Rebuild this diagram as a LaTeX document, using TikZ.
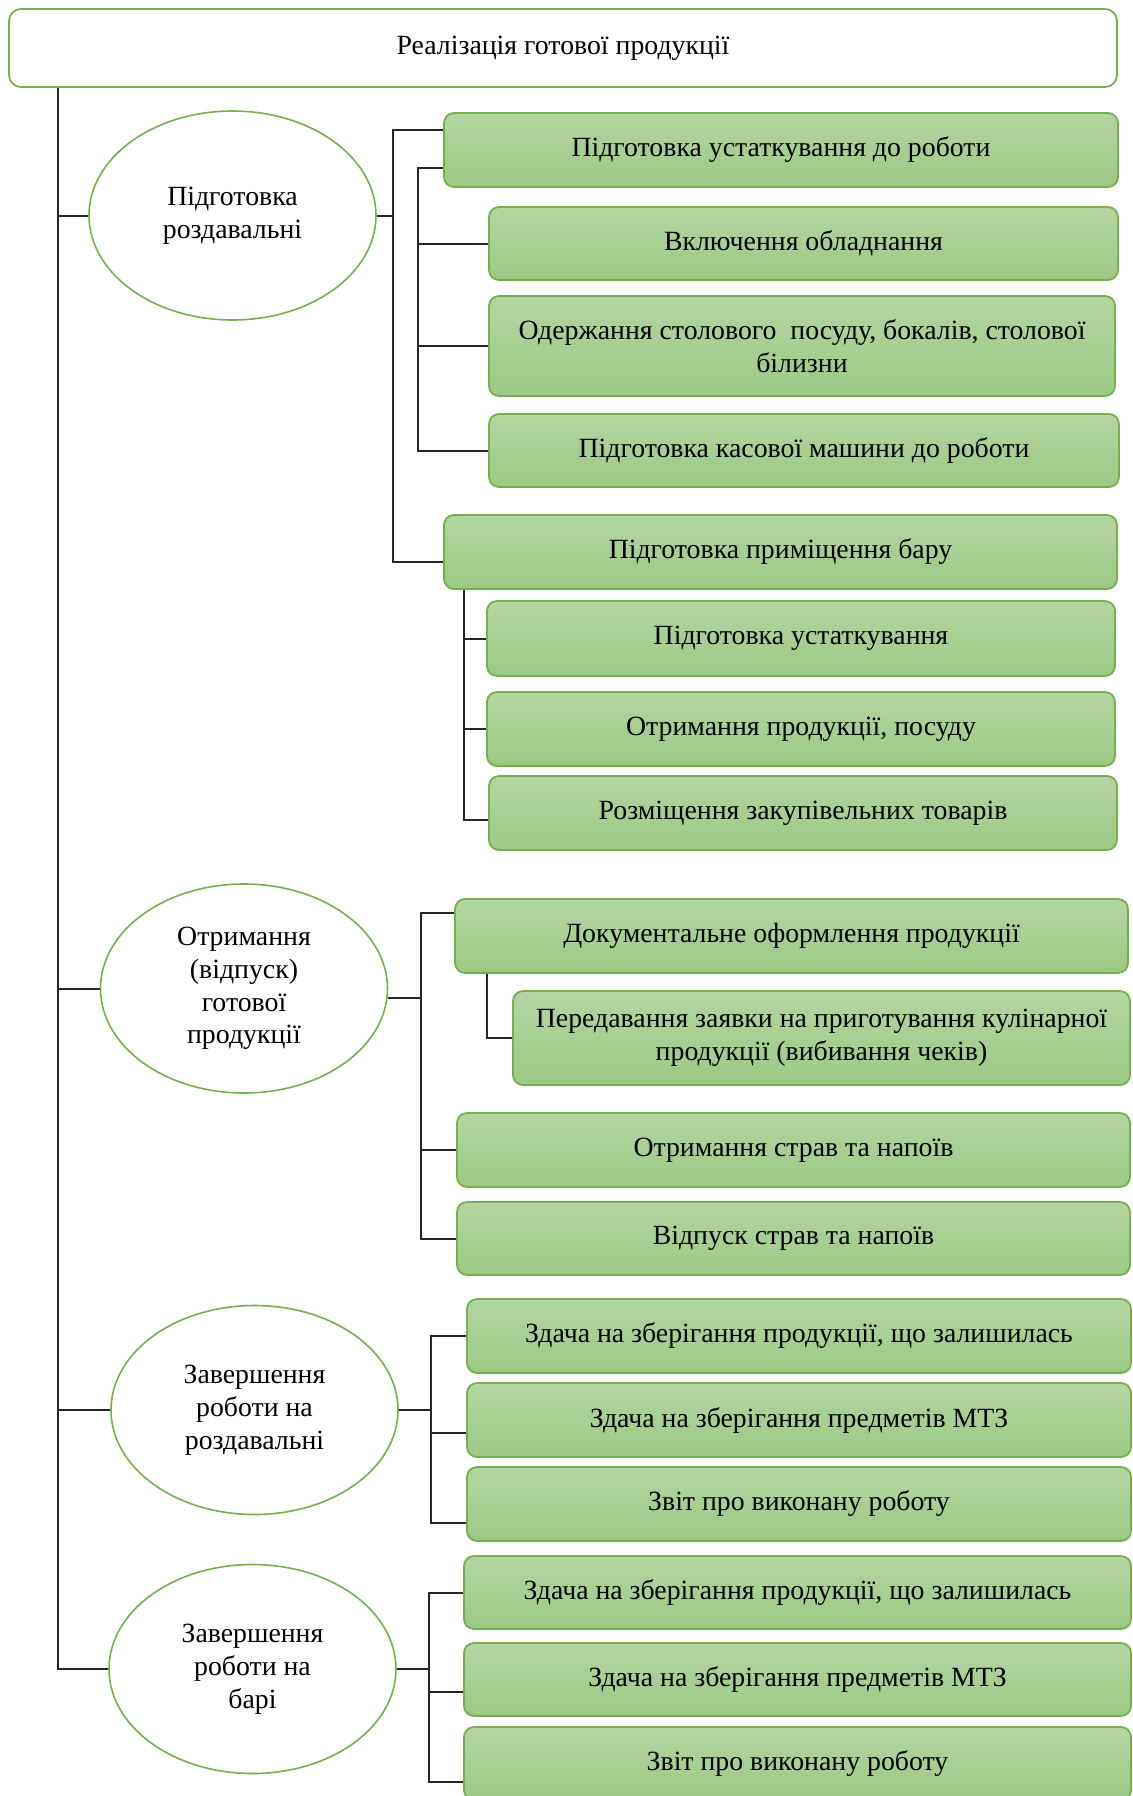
\documentclass[tikz,border=0pt]{standalone}
\usepackage{fontspec}
\setmainfont{Liberation Serif}
\usetikzlibrary{shapes.geometric}
\definecolor{leafline}{HTML}{74B04E}
\definecolor{leaftop}{HTML}{B4D5A1}
\definecolor{leafbot}{HTML}{9CC983}

\begin{document}
\begin{tikzpicture}[x=0.5pt, y=-0.5pt,
  font=\fontsize{13.9}{16.4}\selectfont,
  root/.style={draw=leafline, line width=0.9pt, rounded corners=6pt, fill=white, minimum width=554pt, minimum height=39pt, inner sep=0pt},
  phase/.style={ellipse, draw=leafline, line width=0.8pt, fill=white, minimum width=143.5pt, minimum height=104.5pt, inner sep=0pt, align=center},
  leaf/.style={draw=leafline, line width=0.9pt, rounded corners=5pt, top color=leaftop, bottom color=leafbot, minimum height=37pt, inner sep=0pt, align=center},
  link/.style={draw=black!85, line width=1pt}]
\useasboundingbox (0, 0) rectangle (1133, 1796);
%Level 0
\node[root] (top) at (563, 48) {Реалізація готової продукції};
%Level 1
\node[phase] (p1) at (232.5, 215.5) {Підготовка\\роздавальні};
\node[phase] (p2) at (244, 988.5) {Отримання\\(відпуск)\\готової\\продукції};
\node[phase] (p3) at (254.5, 1410) {Завершення\\роботи на\\роздавальні};
\node[phase] (p4) at (252.5, 1669) {Завершення\\роботи на\\барі};
%Level 2
\node[leaf, minimum width=337pt] (b1) at (781, 150) {Підготовка устаткування до роботи};
\node[leaf, minimum width=314.5pt, minimum height=36.5pt] (b2) at (803.5, 243.5) {Включення обладнання};
\node[leaf, minimum width=313pt, minimum height=50pt] (b3) at (802, 346) {Одержання столового~ посуду, бокалів, столової\\білизни};
\node[leaf, minimum width=315pt, minimum height=36.5pt] (b4) at (804, 450.5) {Підготовка касової машини до роботи};
\node[leaf, minimum width=336.5pt] (b5) at (780.5, 552) {Підготовка приміщення бару};
\node[leaf, minimum width=314pt, minimum height=37.5pt] (b6) at (801, 638.5) {Підготовка устаткування};
\node[leaf, minimum width=314pt] (b7) at (801, 729) {Отримання продукції, посуду};
\node[leaf, minimum width=314pt] (b8) at (803, 813) {Розміщення закупівельних товарів};
\node[leaf, minimum width=336.5pt] (c1) at (791.5, 936) {Документальне оформлення продукції};
\node[leaf, minimum width=308.5pt, minimum height=47pt] (c2) at (821.5, 1038) {Передавання заявки на приготування кулінарної\\продукції (вибивання чеків)};
\node[leaf, minimum width=336.5pt] (c3) at (793.5, 1150) {Отримання страв та напоїв};
\node[leaf, minimum width=336.5pt, minimum height=36.5pt] (c4) at (793.5, 1238.5) {Відпуск страв та напоїв};
\node[leaf, minimum width=332pt] (d1) at (799, 1336) {Здача на зберігання продукції, що залишилась};
\node[leaf, minimum width=332pt] (d2) at (799, 1420) {Здача на зберігання предметів МТЗ};
\node[leaf, minimum width=332pt] (d3) at (799, 1504) {Звіт про виконану роботу};
\node[leaf, minimum width=333.5pt, minimum height=36.5pt] (g1) at (797.5, 1592.5) {Здача на зберігання продукції, що залишилась};
\node[leaf, minimum width=333.5pt, minimum height=36.5pt] (g2) at (797.5, 1679.5) {Здача на зберігання предметів МТЗ};
\node[leaf, minimum width=333.5pt, minimum height=36.5pt] (g3) at (797.5, 1763.5) {Звіт про виконану роботу};
%Spines
\coordinate (trunk) at (58, 0);
\coordinate (k1) at (393, 0);
\coordinate (k2) at (418, 0);
\coordinate (k3) at (464, 0);
\coordinate (k4) at (421, 0);
\coordinate (k5) at (487, 0);
\coordinate (k6) at (431, 0);
\coordinate (k7) at (429, 0);
\coordinate (b1up) at ([yshift=-9pt]b1.north west);
\coordinate (b1lo) at ([yshift=10pt]b1.south west);
\coordinate (b5in) at ([yshift=-5pt]b5.west);
\coordinate (b8in) at ([yshift=-3.5pt]b8.west);
\coordinate (p2out) at ([yshift=-4.5pt]p2.east);
\coordinate (c1up) at ([yshift=-7.5pt]c1.north west);
\coordinate (d2in) at ([yshift=-6.5pt]d2.west);
\coordinate (d3in) at ([yshift=-9.5pt]d3.west);
\coordinate (g2in) at ([yshift=-6pt]g2.west);
\coordinate (g3in) at ([yshift=-9.25pt]g3.west);
%Trunk
\draw[link] (top.south -| trunk) |- (p4.west);
\foreach \p in {p1, p2, p3}
  \draw[link] (trunk |- \p.west) -- (\p.west);
%Depth 1
\draw[link] (p1.east) -- (k1 |- p1.east);
\draw[link] (b1up) -| (k1 |- b5in) -- (b5in);
\draw[link] (b1lo) -| (k2 |- b4.west) -- (b4.west);
\foreach \n in {b2, b3}
  \draw[link] (k2 |- \n.west) -- (\n.west);
\draw[link] (b5.south -| k3) |- (b8in);
\foreach \n in {b6, b7}
  \draw[link] (k3 |- \n.west) -- (\n.west);
%Depth 2
\draw[link] (p2out) -- (k4 |- p2out);
\draw[link] (c1up) -| (k4 |- c4.west) -- (c4.west);
\draw[link] (k4 |- c3.west) -- (c3.west);
\draw[link] (c1.south -| k5) |- (c2.west);
%Depth 3
\draw[link] (p3.east) -- (k6 |- p3.east);
\draw[link] (d1.west) -| (k6 |- d3in) -- (d3in);
\draw[link] (k6 |- d2in) -- (d2in);
%Depth 4
\draw[link] (p4.east) -- (k7 |- p4.east);
\draw[link] (g1.west) -| (k7 |- g3in) -- (g3in);
\draw[link] (k7 |- g2in) -- (g2in);
\end{tikzpicture}
\end{document}
